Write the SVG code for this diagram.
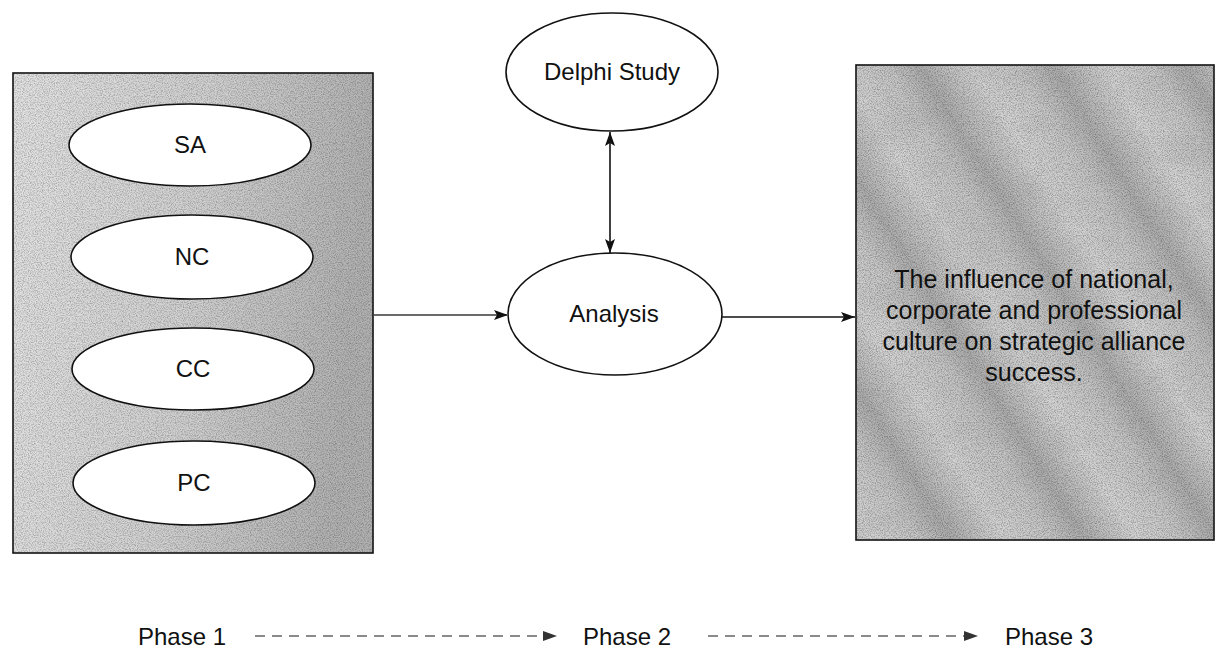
<svg xmlns="http://www.w3.org/2000/svg" width="1216" height="652" viewBox="0 0 1216 652">
  <style>
    .lbl { font-family: "Liberation Sans", Arial, sans-serif; font-size: 24px; fill: #111; text-anchor: middle; }
    .lbl-box { font-family: "Liberation Sans", Arial, sans-serif; font-size: 25px; fill: #111; text-anchor: middle; }
    .phase { font-family: "Liberation Sans", Arial, sans-serif; font-size: 24px; fill: #111; }
    .node { fill: #ffffff; stroke: #111; stroke-width: 1.6; }
    .frame { fill: none; stroke: #111; stroke-width: 1.6; }
    .link { fill: none; stroke: #111; stroke-width: 1.6; }
    .link-grey { fill: none; stroke: #6a6a6a; stroke-width: 2.2; }
    .dash { fill: none; stroke: #8a8a8a; stroke-width: 2; stroke-dasharray: 10 7; }
  </style>
  <defs>
    <marker id="head" viewBox="0 0 14 10" refX="14" refY="5" markerWidth="14" markerHeight="10" markerUnits="userSpaceOnUse" orient="auto-start-reverse">
      <path d="M0,0 L14,5 L0,10 L3,5 Z" fill="#111"/>
    </marker>
    <marker id="head-dash" viewBox="0 0 14 10" refX="14" refY="5" markerWidth="14" markerHeight="10" markerUnits="userSpaceOnUse" orient="auto">
      <path d="M0,0 L14,5 L0,10 Z" fill="#333"/>
    </marker>
    <!-- left panel: light on the left, darker toward the right edge -->
    <linearGradient id="leftShade" x1="0" y1="0" x2="1" y2="0.15">
      <stop offset="0" stop-color="#e2e2e2"/>
      <stop offset="0.55" stop-color="#d0d0d0"/>
      <stop offset="1" stop-color="#b2b2b2"/>
    </linearGradient>
    <!-- right panel: diagonal marbled streaks -->
    <linearGradient id="streaks" gradientUnits="userSpaceOnUse" x1="0" y1="0" x2="95" y2="-60" spreadMethod="repeat">
      <stop offset="0" stop-color="#d4d4d4"/>
      <stop offset="0.35" stop-color="#c6c6c6"/>
      <stop offset="0.6" stop-color="#adadad"/>
      <stop offset="0.8" stop-color="#c2c2c2"/>
      <stop offset="1" stop-color="#d4d4d4"/>
    </linearGradient>
    <filter id="grain" x="0" y="0" width="1" height="1">
      <feTurbulence type="fractalNoise" baseFrequency="0.85" numOctaves="2" seed="7" result="n"/>
      <feColorMatrix in="n" type="matrix" values="0 0 0 0 0  0 0 0 0 0  0 0 0 0 0  2.4 0 0 0 -0.95"/>
    </filter>
    <filter id="marble" x="0" y="0" width="1" height="1">
      <feTurbulence type="fractalNoise" baseFrequency="0.012 0.03" numOctaves="3" seed="4" result="m"/>
      <feColorMatrix in="m" type="matrix" values="0 0 0 0 0.35  0 0 0 0 0.35  0 0 0 0 0.35  1.8 0 0 0 -0.75"/>
    </filter>
  </defs>

  <!-- Phase 1 panel -->
  <g id="phase1-panel">
    <rect x="13" y="73" width="360" height="480" fill="url(#leftShade)"/>
    <rect x="14" y="74" width="358" height="478" fill="#000" filter="url(#grain)" opacity="0.25"/>
    <rect class="frame" x="13" y="73" width="360" height="480"/>
  </g>

  <!-- Phase 3 panel -->
  <g id="outcome">
    <rect x="856" y="65" width="358" height="475" fill="url(#streaks)"/>
    <rect x="857" y="66" width="356" height="473" fill="#000" filter="url(#marble)" opacity="0.22"/>
    <rect x="857" y="66" width="356" height="473" fill="#000" filter="url(#grain)" opacity="0.28"/>
    <rect class="frame" x="856" y="65" width="358" height="475"/>
    <text class="lbl-box" x="1034" y="288">The influence of national,</text>
    <text class="lbl-box" x="1034" y="319">corporate and professional</text>
    <text class="lbl-box" x="1034" y="350">culture on strategic alliance</text>
    <text class="lbl-box" x="1034" y="381">success.</text>
  </g>

  <g id="sa">
    <ellipse class="node" cx="190" cy="145" rx="121" ry="41"/>
    <text class="lbl" x="190" y="153">SA</text>
  </g>
  <g id="nc">
    <ellipse class="node" cx="192" cy="257" rx="121" ry="42"/>
    <text class="lbl" x="192" y="265">NC</text>
  </g>
  <g id="cc">
    <ellipse class="node" cx="193" cy="369" rx="121" ry="41"/>
    <text class="lbl" x="193" y="377">CC</text>
  </g>
  <g id="pc">
    <ellipse class="node" cx="194" cy="483" rx="121" ry="42"/>
    <text class="lbl" x="194" y="491">PC</text>
  </g>

  <g id="delphi">
    <ellipse class="node" cx="612" cy="72" rx="106" ry="59"/>
    <text class="lbl" x="612" y="80">Delphi Study</text>
  </g>
  <g id="analysis">
    <ellipse class="node" cx="615" cy="314" rx="107" ry="61"/>
    <text class="lbl" x="614" y="322">Analysis</text>
  </g>

  <!-- connectors -->
  <g id="connectors">
    <line class="link" x1="610" y1="132" x2="610" y2="253" marker-start="url(#head)" marker-end="url(#head)"/>
    <line class="link-grey" x1="374" y1="315" x2="508" y2="315" marker-end="url(#head)"/>
    <line class="link" x1="722" y1="317" x2="855" y2="317" marker-end="url(#head)"/>
    <line class="dash" x1="255" y1="636" x2="557" y2="636" marker-end="url(#head-dash)"/>
    <line class="dash" x1="708" y1="636" x2="978" y2="636" marker-end="url(#head-dash)"/>
  </g>

  <g id="phases">
    <text class="phase" x="138" y="645">Phase 1</text>
    <text class="phase" x="583" y="645">Phase 2</text>
    <text class="phase" x="1005" y="645">Phase 3</text>
  </g>
</svg>
